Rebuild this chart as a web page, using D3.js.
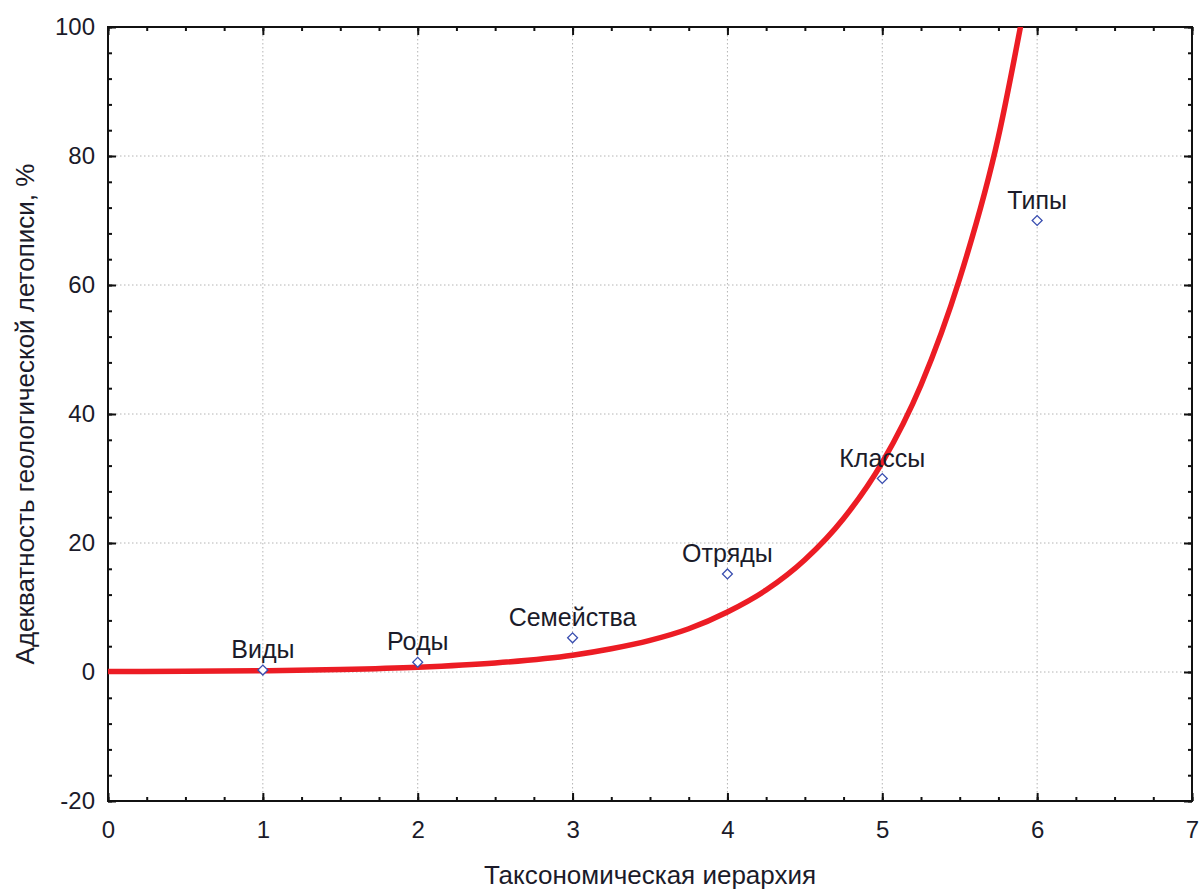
<!DOCTYPE html>
<html>
<head>
<meta charset="utf-8">
<script src="https://cdn.jsdelivr.net/npm/d3@7"></script>
<style>
  body { margin: 0; background: #fff; }
  text { font-family: "Liberation Sans", Arial, sans-serif; fill: #1b1b2a; }
</style>
</head>
<body>
<script>
// точки таксонов
const taxa = ["Виды", "Роды", "Семейства", "Отряды", "Классы", "Типы"];
const rankX = [1, 2, 3, 4, 5, 6];
const adequacy = [0.3, 1.5, 5.3, 15.2, 30, 70];

// кривая
const curveX = [0, 0.5, 1, 1.5, 2, 2.5, 3, 3.25, 3.5, 3.75, 4, 4.25, 4.5, 4.75, 5, 5.25, 5.5, 5.75, 5.9];
const curveY = [0.06, 0.1, 0.2, 0.4, 0.75, 1.4, 2.6, 3.6, 4.9, 6.7, 9.3, 12.7, 17.4, 23.8, 32.5, 44.5, 61, 83, 101];

const xTicks = [0, 1, 2, 3, 4, 5, 6, 7];
const yTicks = [-20, 0, 20, 40, 60, 80, 100];

const W = 1202, H = 890;
const pLeft = 108, pRight = 1192, pTop = 27, pBottom = 801;
const FS = 24;

const svg = d3.select("body").append("svg").attr("width", W).attr("height", H);

const x = d3.scaleLinear().domain([0, 7]).range([pLeft, pRight]);
const y = d3.scaleLinear().domain([-20, 100]).range([pBottom, pTop]);

// сетка
const grid = svg.append("g");
grid.selectAll(".gx").data(xTicks.slice(1, -1)).enter().append("line")
  .attr("x1", d => x(d)).attr("x2", d => x(d)).attr("y1", pTop).attr("y2", pBottom)
  .attr("stroke", "#b4b4b4").attr("stroke-width", 1).attr("stroke-dasharray", "1.5,2.5");
grid.selectAll(".gy").data(yTicks.slice(1, -1)).enter().append("line")
  .attr("x1", pLeft).attr("x2", pRight).attr("y1", d => y(d)).attr("y2", d => y(d))
  .attr("stroke", "#b4b4b4").attr("stroke-width", 1).attr("stroke-dasharray", "1.5,2.5");

// оси (тики внутрь, со всех сторон)
const xMinor = d3.range(0, 7.001, 0.25);
const yMinor = d3.range(-20, 100.001, 4);
const fmt = d => String(d); // дефис вместо минуса, как в оригинале
function axisStyle(g) {
  g.select(".domain").remove();
  g.selectAll("line").attr("stroke", "#111").attr("stroke-width", 2);
}
const bAx = svg.append("g").attr("transform", `translate(0,${pBottom})`);
bAx.append("g").call(d3.axisBottom(x).tickValues(xMinor).tickSize(-4).tickFormat("")).call(axisStyle);
bAx.append("g").call(d3.axisBottom(x).tickValues(xTicks).tickSize(-8).tickPadding(20).tickFormat(fmt)).call(axisStyle);
const tAx = svg.append("g").attr("transform", `translate(0,${pTop})`);
tAx.append("g").call(d3.axisTop(x).tickValues(xMinor).tickSize(-4).tickFormat("")).call(axisStyle);
tAx.append("g").call(d3.axisTop(x).tickValues(xTicks).tickSize(-8).tickFormat("")).call(axisStyle);
const lAx = svg.append("g").attr("transform", `translate(${pLeft},0)`);
lAx.append("g").call(d3.axisLeft(y).tickValues(yMinor).tickSize(-4).tickFormat("")).call(axisStyle);
lAx.append("g").call(d3.axisLeft(y).tickValues(yTicks).tickSize(-8).tickPadding(13).tickFormat(fmt)).call(axisStyle);
const rAx = svg.append("g").attr("transform", `translate(${pRight},0)`);
rAx.append("g").call(d3.axisRight(y).tickValues(yMinor).tickSize(-4).tickFormat("")).call(axisStyle);
rAx.append("g").call(d3.axisRight(y).tickValues(yTicks).tickSize(-8).tickFormat("")).call(axisStyle);

svg.selectAll(".tick text").attr("font-size", FS).attr("fill", "#1b1b2a")
  .attr("font-family", "'Liberation Sans', Arial, sans-serif");

// рамка
svg.append("rect").attr("x", pLeft).attr("y", pTop).attr("width", pRight - pLeft).attr("height", pBottom - pTop)
  .attr("fill", "none").attr("stroke", "#111").attr("stroke-width", 2);

// кривая
svg.append("clipPath").attr("id", "clip").append("rect")
  .attr("x", pLeft).attr("y", pTop).attr("width", pRight - pLeft).attr("height", pBottom - pTop);
const line = d3.line().x(d => x(d[0])).y(d => y(d[1])).curve(d3.curveMonotoneX);
svg.append("path").datum(curveX.map((v, i) => [v, curveY[i]]))
  .attr("clip-path", "url(#clip)")
  .attr("d", line).attr("fill", "none").attr("stroke", "#ec1c24").attr("stroke-width", 5.5);

// маркеры
const pts = taxa.map((t, i) => ({ name: t, x: rankX[i], y: adequacy[i] }));
svg.selectAll(".pt").data(pts).enter().append("path")
  .attr("transform", d => `translate(${x(d.x)},${y(d.y)}) rotate(45)`)
  .attr("d", "M-3.5,-3.5H3.5V3.5H-3.5Z")
  .attr("fill", "#fff").attr("stroke", "#3a4fb0").attr("stroke-width", 1.3);

svg.selectAll(".lbl").data(pts).enter().append("text")
  .attr("x", d => x(d.x)).attr("y", d => y(d.y) - 12)
  .attr("text-anchor", "middle").attr("font-size", 25).text(d => d.name);

// подписи осей
svg.append("text").attr("x", (pLeft + pRight) / 2).attr("y", 884)
  .attr("text-anchor", "middle").attr("font-size", 26).text("Таксономическая иерархия");
svg.append("text").attr("transform", `translate(34,${(pTop + pBottom) / 2}) rotate(-90)`)
  .attr("text-anchor", "middle").attr("font-size", 26).text("Адекватность геологической летописи, %");
</script>
</body>
</html>
